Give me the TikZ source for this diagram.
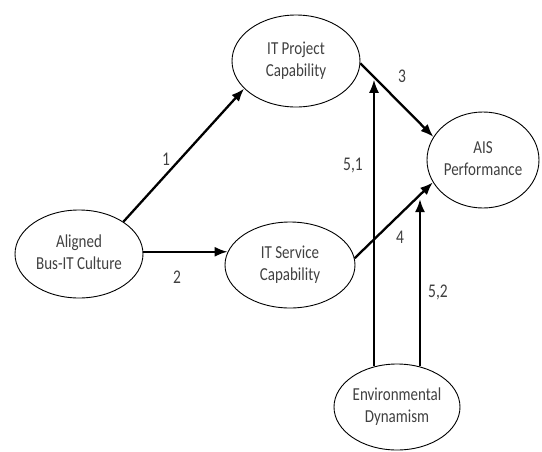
\documentclass[tikz,border=0pt]{standalone}
\usepackage{fontspec}
\setmainfont{Carlito}
\usepackage{graphicx}
\usetikzlibrary{shapes.geometric,arrows.meta}
\newcommand{\tx}[1]{\scalebox{1}[1.22]{\begin{tabular}{@{}c@{}}#1\end{tabular}}}
\newcommand{\lb}[1]{\scalebox{1}[1.25]{#1}}
\begin{document}
\begin{tikzpicture}[x=1pt,y=1pt,
  ell/.style={draw,ellipse,line width=0.9pt,inner sep=0pt,text=black!75,
    font=\fontsize{15}{18.5}\selectfont},
  arr/.style={line width=2.3pt,-{Latex[length=13pt,width=10pt]}},
  varr/.style={line width=1.8pt,-{Latex[length=13pt,width=10pt]}},
  lab/.style={text=black!75,font=\fontsize{15.5}{18.5}\selectfont}]
\useasboundingbox (0,0) rectangle (542,-451);
\node[ell,minimum width=128pt,minimum height=92pt] (p) at (296,-61) {\tx{IT Project\\Capability}};
\node[ell,minimum width=112pt,minimum height=96pt] (ais) at (483,-160) {\tx{AIS\\Performance}};
\node[ell,minimum width=128pt,minimum height=88pt] (a) at (79,-254) {\tx{Aligned\\Bus-IT Culture}};
\node[ell,minimum width=130pt,minimum height=86pt] (s) at (290,-265) {\tx{IT Service\\Capability}};
\node[ell,minimum width=126pt,minimum height=86pt] (e) at (397,-407) {\tx{Environmental\\Dynamism}};
\draw[arr] (a.36) -- (p.208);
\draw[arr] (s.168 -| a.east) -- (s.168);
\draw[arr] (p.-2) -- coordinate[pos=0.17] (m1) (ais.155);
\draw[arr] (s.6) -- coordinate[pos=0.83] (m2) (ais.204);
\coordinate (e1) at (374,-366);
\coordinate (e2) at (420,-366);
\draw[varr,shorten >=4pt] (e1) -- (e1 |- m1);
\draw[varr,shorten >=4pt] (e2) -- (e2 |- m2);
\node[lab] (l1) at (166,-159) {\lb{1}};
\node[lab] (l2) at (177,-277) {\lb{2}};
\node[lab] (l3) at (402,-76) {\lb{3}};
\node[lab] (l4) at (400,-237) {\lb{4}};
\node[lab] (l51) at (353,-165) {\lb{5,1}};
\node[lab] (l52) at (438,-292) {\lb{5,2}};
\end{tikzpicture}
\end{document}
